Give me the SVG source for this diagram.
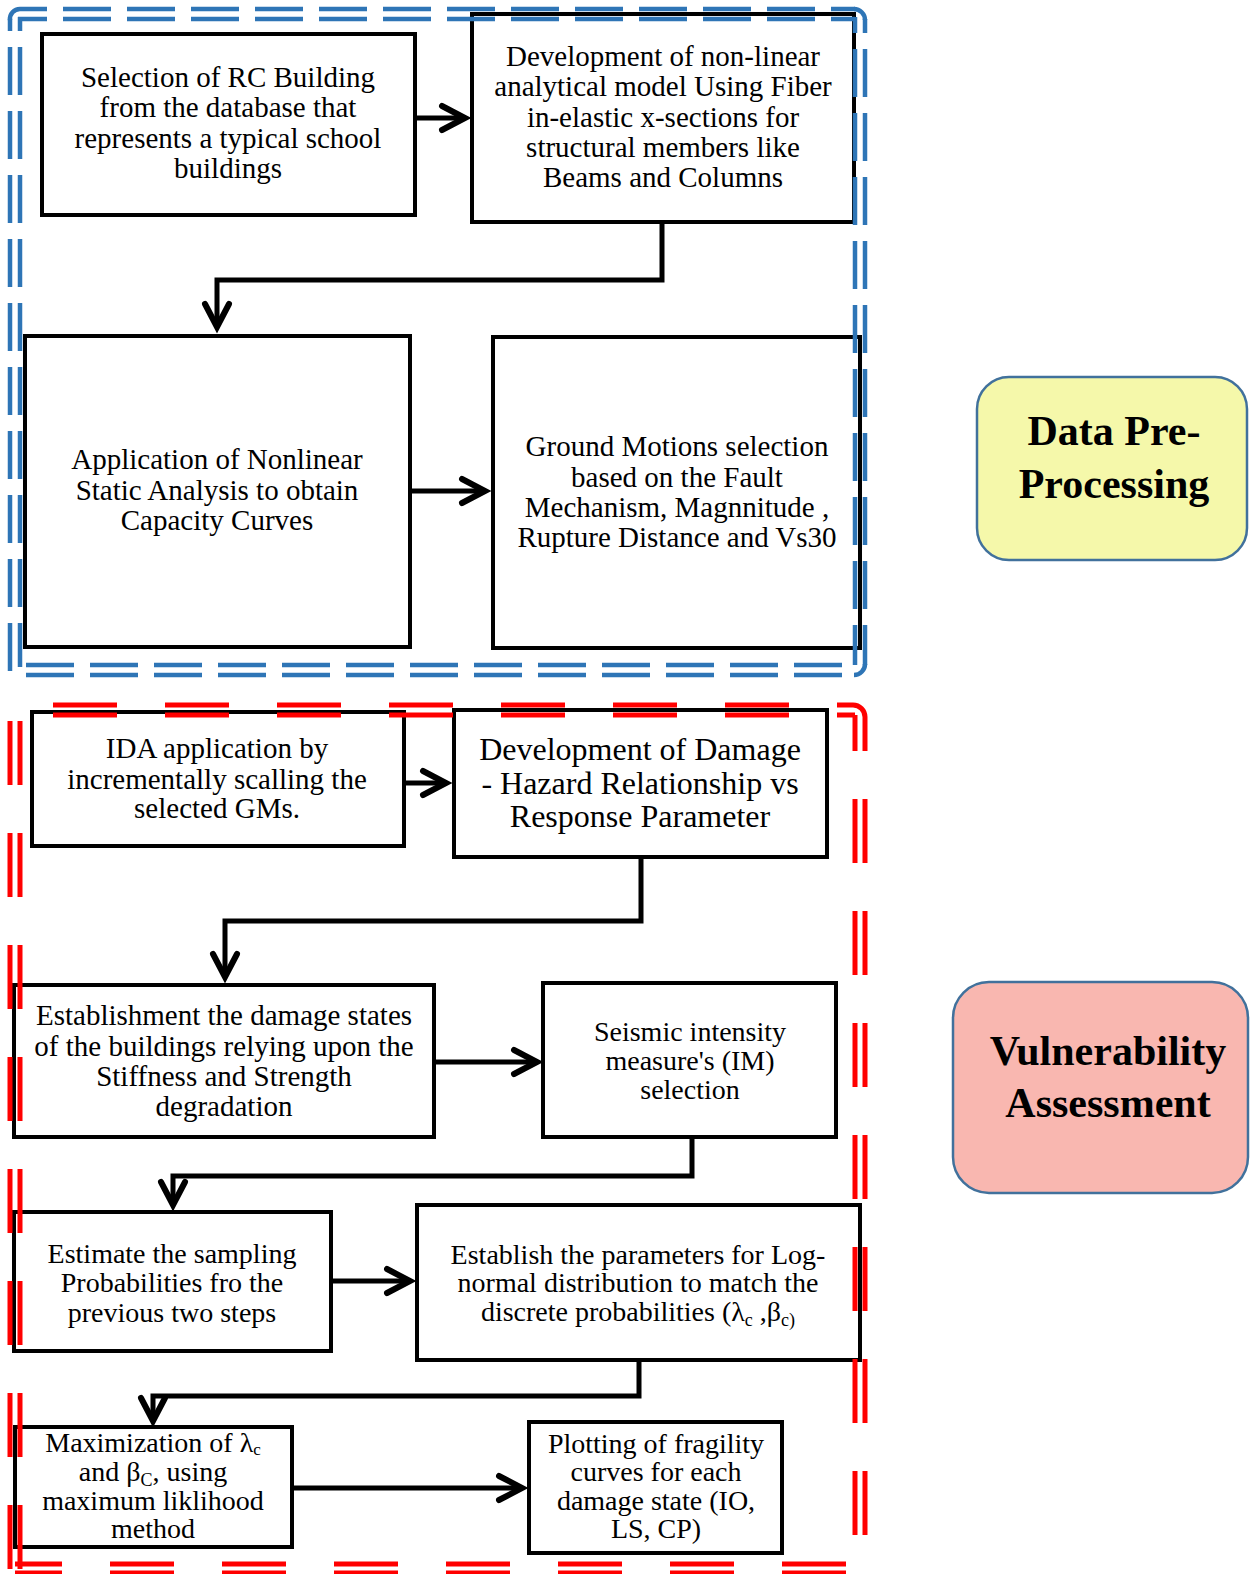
<svg xmlns="http://www.w3.org/2000/svg" width="1252" height="1574" viewBox="0 0 1252 1574">
<style>
  .box { fill: #ffffff; stroke: #000000; stroke-width: 4; }
  .t { font-family: "Liberation Serif", "Times New Roman", serif; fill: #000000; text-anchor: middle; }
  .t29 { font-size: 29px; }
  .t28 { font-size: 28px; }
  .t32 { font-size: 32px; }
  .tb { font-family: "Liberation Serif", "Times New Roman", serif; font-weight: bold; font-size: 42px; fill: #000000; text-anchor: middle; }
  .conn { fill: none; stroke: #000000; stroke-width: 5; marker-end: url(#arr); }
  .blue { fill: none; stroke: #2E75B6; stroke-width: 4.5; stroke-dasharray: 48 16; }
  .bluec { fill: none; stroke: #2E75B6; stroke-width: 4.5; }
  .red { fill: none; stroke: #FF0000; stroke-width: 5; stroke-dasharray: 64 48; }
  .redc { fill: none; stroke: #FF0000; stroke-width: 5; }
  .side1 { fill: #F5F8AA; stroke: #41719C; stroke-width: 2.5; }
  .side2 { fill: #F9B7B0; stroke: #41719C; stroke-width: 2.5; }
</style>
<defs>
  <marker id="arr" markerUnits="userSpaceOnUse" markerWidth="40" markerHeight="40" refX="27" refY="15" orient="auto" overflow="visible">
    <path d="M 4,3 L 27,15 L 4,27" fill="none" stroke="#000000" stroke-width="6" stroke-linecap="round" stroke-linejoin="miter"/>
  </marker>
</defs>

<g id="node-selection">
  <rect class="box" x="42" y="34" width="373" height="181"/>
  <text class="t t29"><tspan x="228" y="87">Selection of RC Building</tspan><tspan x="228" y="117">from the database that</tspan><tspan x="228" y="148">represents a typical school</tspan><tspan x="228" y="178">buildings</tspan></text>
</g>
<g id="node-development">
  <rect class="box" x="472" y="14" width="382" height="208"/>
  <text class="t t29"><tspan x="663" y="66">Development of non-linear</tspan><tspan x="663" y="96">analytical model Using Fiber</tspan><tspan x="663" y="126.5">in-elastic x-sections for</tspan><tspan x="663" y="156.5">structural members like</tspan><tspan x="663" y="187">Beams and Columns</tspan></text>
</g>
<g id="node-nsa">
  <rect class="box" x="25" y="336" width="385" height="311"/>
  <text class="t t29"><tspan x="217" y="469">Application of Nonlinear</tspan><tspan x="217" y="500">Static Analysis to obtain</tspan><tspan x="217" y="530">Capacity Curves</tspan></text>
</g>
<g id="node-gm">
  <rect class="box" x="493" y="337" width="367" height="311"/>
  <text class="t t29"><tspan x="677" y="456">Ground Motions selection</tspan><tspan x="677" y="487">based on the Fault</tspan><tspan x="677" y="517">Mechanism, Magnnitude ,</tspan><tspan x="677" y="547">Rupture Distance and Vs30</tspan></text>
</g>

<g id="node-ida">
  <rect class="box" x="32" y="712" width="372" height="134"/>
  <text class="t t29"><tspan x="217" y="758">IDA application by</tspan><tspan x="217" y="789">incrementally scalling the</tspan><tspan x="217" y="818">selected GMs.</tspan></text>
</g>
<g id="node-damage-hazard">
  <rect class="box" x="454" y="710" width="373" height="147"/>
  <text class="t t32"><tspan x="640" y="760">Development of Damage</tspan><tspan x="640" y="793.5">- Hazard Relationship vs</tspan><tspan x="640" y="826.5">Response Parameter</tspan></text>
</g>
<g id="node-damage-states">
  <rect class="box" x="14" y="985" width="420" height="152"/>
  <text class="t t29"><tspan x="224" y="1025">Establishment the damage states</tspan><tspan x="224" y="1056">of the buildings relying upon the</tspan><tspan x="224" y="1086">Stiffness and Strength</tspan><tspan x="224" y="1116">degradation</tspan></text>
</g>
<g id="node-im">
  <rect class="box" x="543" y="983" width="293" height="154"/>
  <text class="t t28"><tspan x="690" y="1041">Seismic intensity</tspan><tspan x="690" y="1070">measure's (IM)</tspan><tspan x="690" y="1099">selection</tspan></text>
</g>
<g id="node-sampling">
  <rect class="box" x="14" y="1212" width="317" height="139"/>
  <text class="t t28"><tspan x="172" y="1263">Estimate the sampling</tspan><tspan x="172" y="1292">Probabilities fro the</tspan><tspan x="172" y="1322">previous two steps</tspan></text>
</g>
<g id="node-lognormal">
  <rect class="box" x="417" y="1205" width="443" height="155"/>
  <text class="t t28" x="638" y="1264">Establish the parameters for Log-</text>
  <text class="t t28" x="638" y="1292">normal distribution to match the</text>
  <text class="t t28" x="638" y="1321">discrete probabilities (λ<tspan font-size="18" dy="5">c</tspan><tspan dy="-5"> ,β</tspan><tspan font-size="18" dy="5">c)</tspan></text>
</g>
<g id="node-mle">
  <rect class="box" x="15" y="1427" width="277" height="120"/>
  <text class="t t28" x="153" y="1452">Maximization of λ<tspan font-size="17" dy="3">c</tspan></text>
  <text class="t t28" x="153" y="1481">and β<tspan font-size="18" dy="5">C</tspan><tspan dy="-5">, using</tspan></text>
  <text class="t t28" x="153" y="1510">maximum liklihood</text>
  <text class="t t28" x="153" y="1538">method</text>
</g>
<g id="node-fragility">
  <rect class="box" x="529" y="1422" width="253" height="131"/>
  <text class="t t28"><tspan x="656" y="1453">Plotting of fragility</tspan><tspan x="656" y="1481">curves for each</tspan><tspan x="656" y="1510">damage state (IO,</tspan><tspan x="656" y="1538">LS, CP)</tspan></text>
</g>

<g id="connectors">
  <path class="conn" d="M 415,118 H 465"/>
  <path class="conn" d="M 662,222 V 280 H 217 V 327"/>
  <path class="conn" d="M 410,491 H 485"/>
  <path class="conn" d="M 404,783 H 446"/>
  <path class="conn" d="M 641,857 V 921 H 225 V 977"/>
  <path class="conn" d="M 434,1062 H 537"/>
  <path class="conn" d="M 692,1137 V 1176 H 173 V 1205"/>
  <path class="conn" d="M 331,1281 H 410"/>
  <path class="conn" d="M 639,1360 V 1396 H 153 V 1421"/>
  <path class="conn" d="M 292,1488 H 522"/>
</g>

<g id="frame-preprocessing">
  <line class="blue" x1="20" y1="9" x2="855" y2="9" stroke-dashoffset="21"/>
  <line class="blue" x1="18" y1="19" x2="855" y2="19" stroke-dashoffset="19"/>
  <line class="blue" x1="10" y1="19" x2="10" y2="675" stroke-dashoffset="36"/>
  <line class="blue" x1="20" y1="17" x2="20" y2="667" stroke-dashoffset="34"/>
  <line class="blue" x1="865" y1="19" x2="865" y2="665" stroke-dashoffset="34"/>
  <line class="blue" x1="855" y1="17" x2="855" y2="665" stroke-dashoffset="32"/>
  <line class="blue" x1="15" y1="675" x2="855" y2="675" stroke-dashoffset="53"/>
  <line class="blue" x1="15" y1="665" x2="855" y2="665" stroke-dashoffset="53"/>
  <path class="bluec" d="M 10,20 A 10,10 0 0 1 20,9"/>
  <path class="bluec" d="M 854,9 A 11,11 0 0 1 865,20"/>
  <path class="bluec" d="M 865,664 A 11,11 0 0 1 854,675"/>
</g>

<g id="frame-vulnerability">
  <line class="red" x1="15" y1="705" x2="853" y2="705" stroke-dashoffset="74"/>
  <line class="red" x1="15" y1="715" x2="855" y2="715" stroke-dashoffset="74"/>
  <line class="red" x1="10" y1="705" x2="10" y2="1574" stroke-dashoffset="96"/>
  <line class="red" x1="20" y1="705" x2="20" y2="1574" stroke-dashoffset="96"/>
  <line class="red" x1="865" y1="717" x2="865" y2="1574" stroke-dashoffset="30"/>
  <line class="red" x1="855" y1="715" x2="855" y2="1574" stroke-dashoffset="28"/>
  <line class="red" x1="15" y1="1564" x2="865" y2="1564" stroke-dashoffset="17"/>
  <line class="red" x1="15" y1="1573" x2="865" y2="1573" stroke-dashoffset="17"/>
  <path class="redc" d="M 853,705 A 12,12 0 0 1 865,717"/>
</g>

<g id="label-data-preprocessing">
  <rect class="side1" x="977" y="377" width="270" height="183" rx="32" ry="32"/>
  <text class="tb"><tspan x="1114" y="445">Data Pre-</tspan><tspan x="1114" y="498">Processing</tspan></text>
</g>
<g id="label-vulnerability">
  <rect class="side2" x="953" y="982" width="295" height="211" rx="36" ry="36"/>
  <text class="tb"><tspan x="1108" y="1065">Vulnerability</tspan><tspan x="1108" y="1117">Assessment</tspan></text>
</g>
</svg>
